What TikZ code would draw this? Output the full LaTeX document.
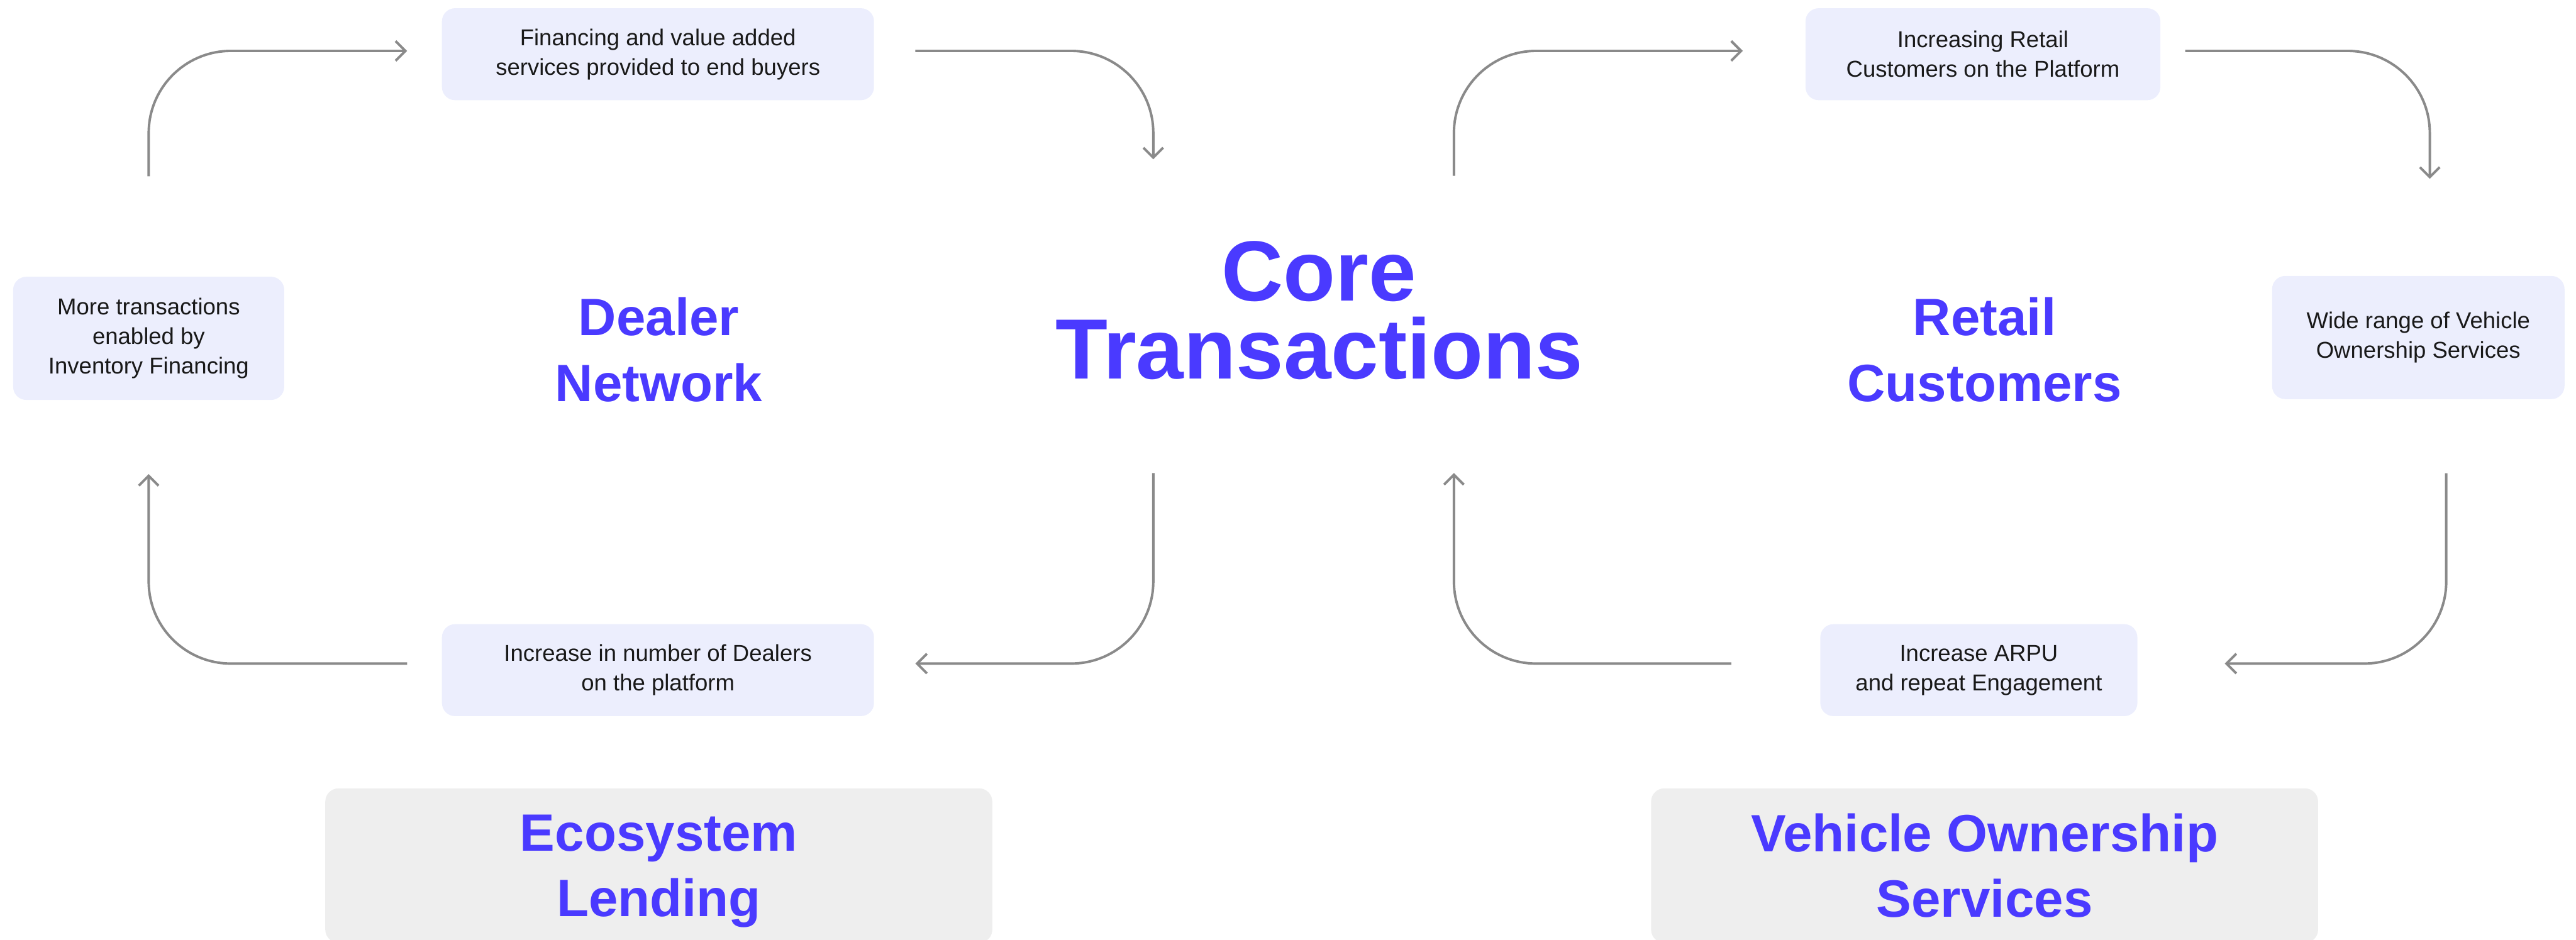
\documentclass[tikz,border=0pt]{standalone}
\usepackage{fontspec}
\setmainfont{Liberation Sans}
\usetikzlibrary{arrows.meta, calc}

\definecolor{brandblue}{HTML}{4A3AFF}
\definecolor{boxfill}{HTML}{ECEEFD}
\definecolor{pillarfill}{HTML}{EEEEEE}
\definecolor{flowgray}{HTML}{8A8A8A}

\begin{document}
\begin{tikzpicture}[x=0.5mm, y=-0.5mm,
    infobox/.style={fill=boxfill, rounded corners=4mm, align=center,
        text=black!90, font=\fontsize{19.9}{25.6}\selectfont},
    hubtitle/.style={text=brandblue, align=center,
        font=\fontsize{45.5}{57}\selectfont\bfseries},
    pillarbox/.style={hubtitle, fill=pillarfill, rounded corners=4mm,
        minimum width=203mm, minimum height=47mm},
    flow/.style={draw=flowgray, line width=0.75mm, rounded corners=25mm,
        -{Straight Barb[length=3mm, width=6mm]}}]

    \useasboundingbox (0,0) rectangle (1568,572);

    % --- 1. Dealer Network loop ---
    \node [hubtitle] (dealer) at (401,213) {Dealer\\Network};
    \node [infobox, minimum width=131.5mm, minimum height=28mm] (lfin) at (400.5,33)
        {Financing and value added\\services provided to end buyers};
    \node [infobox, minimum width=82.5mm, minimum height=37.5mm] (lmore) at (90.5,206)
        {More transactions\\enabled by\\Inventory Financing};
    \node [infobox, minimum width=131.5mm, minimum height=28mm] (ldeal) at (400.5,408)
        {Increase in number of Dealers\\on the platform};

    % --- 2. Core Transactions ---
    \node [hubtitle, font=\fontsize{74}{67}\selectfont\bfseries] (core) at (803,189)
        {Core\\Transactions};

    % --- 3. Retail Customers loop ---
    \node [hubtitle] (retail) at (1208,213) {Retail\\Customers};
    \node [infobox, minimum width=108mm, minimum height=28mm] (rinc) at (1207,33)
        {Increasing Retail\\Customers on the Platform};
    \node [infobox, minimum width=89mm, minimum height=37.5mm] (rwide) at (1472,205.5)
        {Wide range of Vehicle\\Ownership Services};
    \node [infobox, minimum width=96.5mm, minimum height=28mm] (rarpu) at (1204.5,408)
        {Increase ARPU\\and repeat Engagement};

    % --- 4. Pillars ---
    \node [pillarbox] (lending) at (401,527) {Ecosystem\\\smash{Lending}};
    \node [pillarbox] (ownership) at (1208,527) {Vehicle Ownership\\Services};

    % loop ends next to the core title
    \coordinate (lne) at (702,97);
    \coordinate (lse) at (702,288);
    \coordinate (rnw) at (885,107);
    \coordinate (rsw) at (885,288);

    % --- 5. Flow arrows ---
    \draw [flow] ($(lmore.north)+(0,-61)$) |- ($(lfin.west)+(-21,-2)$);
    \draw [flow] ($(lfin.east)+(25,-2)$) -| (lne);
    \draw [flow] (lse) |- ($(ldeal.east)+(25,-4)$);
    \draw [flow] ($(ldeal.west)+(-21,-4)$) -| ($(lmore.south)+(0,45)$);

    \draw [flow] (rnw) |- ($(rinc.west)+(-38,-2)$);
    \draw [flow] ($(rinc.east)+(15,-2)$) -| ($(rwide.north)+(7,-59)$);
    \draw [flow] ($(rwide.south)+(17,45)$) |- ($(rarpu.east)+(53,-4)$);
    \draw [flow] ($(rarpu.west)+(-54,-4)$) -| (rsw);

\end{tikzpicture}
\end{document}
